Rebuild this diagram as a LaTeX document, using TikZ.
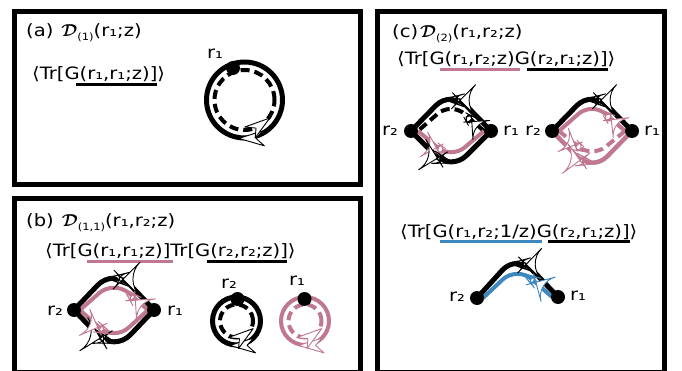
\documentclass[tikz,border=0pt]{standalone}
\usepackage{fontspec}
\setmainfont{DejaVu Sans}[FakeStretch=1.15]
\usepackage{bm}
\usetikzlibrary{decorations.markings}
\definecolor{pinkc}{RGB}{192,120,146}
\definecolor{bluec}{RGB}{62,136,192}
\newcommand{\calD}{{\fontsize{19}{19}\selectfont$\bm{\mathcal{D}}$}}
\newcommand{\dsub}[1]{\raisebox{-4pt}{\fontsize{10}{10}\selectfont #1}}
\tikzset{
  frame/.style={line width=5pt, line join=miter},
  lbl/.style={font=\fontsize{17}{19}\selectfont, inner sep=0pt, anchor=base west},
  rlbl/.style={font=\fontsize{17}{19}\selectfont, inner sep=0pt},
  dot/.style={circle, fill=black, inner sep=0pt, minimum size=14pt},
  bline/.style={line width=5pt, black},
  pline/.style={line width=4pt, pinkc},
  cline/.style={line width=4pt, bluec},
  dline/.style={line width=4pt, dash pattern=on 9pt off 5pt},
  ul/.style={line width=3pt},
  harp/.style 2 args={postaction={decorate,decoration={markings,
     mark=at position #1 with {\draw[solid,#2,line width=0.9pt,fill=white,line join=round,line cap=round] (8,0) -- (-17,-9) -- (-9,-1) -- (-16,6) -- cycle;}}}},
}
\begin{document}
\begin{tikzpicture}[x=1pt,y=-1pt]
\useasboundingbox (0,0) rectangle (682,371);
% frames
\draw[frame] (14.5,11.5) rectangle (360.5,184.5);
\draw[frame] (14.5,199) rectangle (360.5,372);
\draw[frame] (377,11.5) rectangle (664,372);

% ---------- panel (a)
\node[lbl] (ta) at (26,37) {(a)\hspace{8pt}\calD\dsub{(1)}(r₁;z)};
\node[lbl] (fa) at (32,80) {⟨Tr[G(r₁,r₁;z)]⟩};
\draw[ul] (76,85) -- (157,85);
\coordinate (ca) at (244.5,100);
\draw[bline] (ca) circle[radius=38];
\draw[dline] (ca) ++(30,0) arc[start angle=360,end angle=0,radius=30];
\node[dot] (a1) at (233,68) {};
\node[rlbl] (la1) at (215,54) {r₁};
\path[harp={0.24}{black}] (ca) ++(38,0) arc[start angle=0,end angle=360,radius=38];
\path[harp={0.86}{black}] (ca) ++(30,0) arc[start angle=360,end angle=0,radius=30];

% ---------- panel (b)
\node[lbl] (tb) at (26,227) {(b)\hspace{8pt}\calD\dsub{(1,1)}(r₁,r₂;z)};
\node[lbl] (fb) at (45,256) {⟨Tr[G(r₁,r₁;z)]Tr[G(r₂,r₂;z)]⟩};
\draw[ul, pinkc] (87,261) -- (173,261);
\draw[ul] (207,261) -- (287,261);
\coordinate (b2) at (74,310);
\coordinate (b1) at (154,310);
\draw[bline, rounded corners=24pt] (b1) -- (114,268) -- (b2);
\draw[bline, rounded corners=24pt] (b2) -- (114,352) -- (b1);
\draw[pline, rounded corners=20pt] (148,310) -- (114,280) -- (80,310);
\draw[pline, rounded corners=20pt] (80,310) -- (114,341) -- (148,310);
\node[dot] (b2d) at (b2) {};
\node[dot] (b1d) at (b1) {};
\node[rlbl] (lb2) at (55,311) {r₂};
\node[rlbl] (lb1) at (175,311) {r₁};
\path[rounded corners=24pt, harp={0.5}{black}] (b1) -- (114,268) -- (b2);
\path[rounded corners=24pt, harp={0.45}{black}] (b2) -- (114,352) -- (b1);
\path[rounded corners=20pt, harp={0.3}{pinkc}] (148,310) -- (114,280) -- (80,310);
\path[rounded corners=20pt, harp={0.4}{pinkc}] (80,310) -- (114,341) -- (148,310);
% small rings
\coordinate (cb) at (236.5,321);
\draw[bline] (cb) circle[radius=24];
\draw[dline] (cb) ++(16.5,0) arc[start angle=360,end angle=0,radius=16.5];
\node[dot] (b2s) at (237.5,299) {};
\node[rlbl] (lb2s) at (229,284) {r₂};
\coordinate (cp) at (305,321);
\draw[pline] (cp) circle[radius=24];
\draw[pline, dash pattern=on 9pt off 5pt] (cp) ++(16.5,0) arc[start angle=360,end angle=0,radius=16.5];
\node[dot] (b1s) at (304.5,299) {};
\node[rlbl] (lb1s) at (297,281) {r₁};
\path[harp={0.24}{black}] (cb) ++(24,0) arc[start angle=0,end angle=360,radius=24];
\path[harp={0.86}{black}] (cb) ++(16.5,0) arc[start angle=360,end angle=0,radius=16.5];
\path[harp={0.24}{pinkc}] (cp) ++(24,0) arc[start angle=0,end angle=360,radius=24];
\path[harp={0.86}{pinkc}] (cp) ++(16.5,0) arc[start angle=360,end angle=0,radius=16.5];

% ---------- panel (c)
\node[lbl] (tc) at (392,38) {(c)\hspace{2pt}\calD\dsub{(2)}(r₁,r₂;z)};
\node[lbl] (fc) at (397,65) {⟨Tr[G(r₁,r₂;z)G(r₂,r₁;z)]⟩};
\draw[ul, pinkc] (440,70) -- (520,70);
\draw[ul] (527,70) -- (608,70);
% left diamond
\coordinate (c2) at (411,131);
\coordinate (c1) at (491,131);
\draw[bline, rounded corners=22pt] (c1) -- (451,90) -- (c2);
\draw[dline, rounded corners=18pt] (484,131) -- (451,102) -- (418,131);
\draw[pline, rounded corners=18pt] (418,131) -- (451,159) -- (484,131);
\draw[bline, rounded corners=22pt] (c2) -- (451,171) -- (c1);
\node[dot] (c2d) at (c2) {};
\node[dot] (c1d) at (c1) {};
\node[rlbl] (lc2) at (390,131) {r₂};
\node[rlbl] (lc1) at (511,131) {r₁};
% right diamond
\coordinate (e2) at (552,131);
\coordinate (e1) at (632,131);
\draw[bline, rounded corners=22pt] (e1) -- (592,90) -- (e2);
\draw[pline, rounded corners=18pt] (625,131) -- (592,102) -- (559,131);
\draw[pline, dash pattern=on 9pt off 5pt, rounded corners=18pt] (559,131) -- (592,158) -- (625,131);
\draw[pline, line width=4.5pt, rounded corners=22pt] (e2) -- (592,172) -- (e1);
\node[dot] (e2d) at (e2) {};
\node[dot] (e1d) at (e1) {};
\node[rlbl] (le2) at (533,131) {r₂};
\node[rlbl] (le1) at (652,131) {r₁};
% arrows of (c) diamonds
\path[rounded corners=22pt, harp={0.5}{black}] (c1) -- (451,90) -- (c2);
\path[rounded corners=18pt, harp={0.3}{black}] (484,131) -- (451,102) -- (418,131);
\path[rounded corners=18pt, harp={0.42}{pinkc}] (418,131) -- (451,159) -- (484,131);
\path[rounded corners=22pt, harp={0.45}{black}] (c2) -- (451,171) -- (c1);
\path[rounded corners=22pt, harp={0.5}{black}] (e1) -- (592,90) -- (e2);
\path[rounded corners=18pt, harp={0.33}{pinkc}] (625,131) -- (592,102) -- (559,131);
\path[rounded corners=18pt, harp={0.38}{pinkc}] (559,131) -- (592,158) -- (625,131);
\path[rounded corners=22pt, harp={0.47}{pinkc}] (e2) -- (592,172) -- (e1);
% lower formula and arc
\node[lbl] (fc2) at (400,237) {⟨Tr[G(r₁,r₂;1/z)G(r₂,r₁;z)]⟩};
\draw[ul, bluec] (440,242) -- (542,242);
\draw[ul] (548,242) -- (630,242);
\coordinate (d2) at (477,298);
\coordinate (d1) at (558,297);
\draw[bline, rounded corners=22pt] (d1) -- (517,254) -- (d2);
\draw[cline, rounded corners=20pt] (552,297) -- (517,266) -- (483,298);
\node[dot] (d2d) at (d2) {};
\node[dot] (d1d) at (d1) {};
\node[rlbl] (ld2) at (457,297) {r₂};
\node[rlbl] (ld1) at (578,296) {r₁};
\path[rounded corners=22pt, harp={0.5}{black}] (d1) -- (517,254) -- (d2);
\path[rounded corners=20pt, harp={0.36}{bluec}] (552,297) -- (517,266) -- (483,298);
\end{tikzpicture}
\end{document}
